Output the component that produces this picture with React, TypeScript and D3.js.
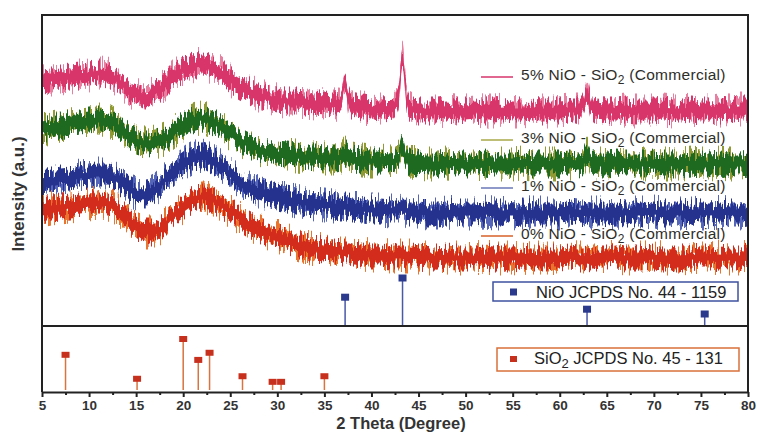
import React, { useEffect, useRef } from "react";
import * as d3 from "d3";

// 2 theta grid (denser around the NiO reflections)
const twoTheta = [
  5, 6, 7, 8, 9, 10, 11, 12, 13, 14,
  15, 16, 17, 18, 19, 20, 21, 22, 23, 24,
  25, 26, 27, 28, 29, 30, 31, 32, 33, 34,
  35, 36, 36.8, 37.2, 37.6, 38, 39, 40, 41, 42,
  42.9, 43.3, 43.7, 44, 45, 46, 47, 48, 49, 50,
  51, 52, 53, 54, 55, 56, 57, 58, 59, 60,
  61, 62, 62.5, 62.9, 63.3, 64, 65, 66, 67, 68,
  69, 70, 71, 72, 73, 74, 75, 76, 77, 78, 79, 80,
];

// stacked intensities (a.u.)
const nio5 = [
  246, 247, 248, 249, 250, 251, 253, 252, 246, 238,
  231, 229, 234, 241, 250, 256, 260, 262, 259, 254,
  246, 240, 235, 231, 228, 226, 225, 225, 224, 223,
  222, 221, 226, 241, 226, 220, 218, 217, 216, 217,
  231, 268, 231, 218, 215, 215, 215, 216, 215, 215,
  216, 215, 215, 216, 215, 215, 216, 215, 215, 215,
  216, 216, 221, 236, 221, 216, 215, 215, 216, 215,
  215, 215, 216, 215, 215, 216, 215, 215, 216, 215, 217, 217,
];
const nio3 = [
  196, 198, 200, 202, 204, 205, 206, 205, 200, 192,
  185, 183, 184, 187, 194, 201, 206, 208, 205, 199,
  192, 186, 181, 177, 174, 172, 171, 170, 169, 169,
  168, 168, 169, 173, 169, 167, 166, 165, 165, 164,
  169, 179, 169, 164, 163, 162, 162, 163, 162, 162,
  162, 163, 162, 162, 162, 163, 162, 162, 162, 162,
  163, 162, 165, 172, 165, 162, 162, 163, 162, 162,
  162, 163, 162, 162, 162, 163, 162, 162, 163, 162, 162, 163,
];
const nio1 = [
  143, 145, 147, 148, 150, 151, 152, 152, 146, 138,
  133, 132, 136, 146, 154, 162, 168, 170, 166, 160,
  152, 145, 139, 135, 132, 129, 127, 125, 123, 122,
  121, 120, 119, 120, 119, 118, 117, 116, 116, 115,
  115, 118, 115, 114, 114, 113, 113, 114, 113, 113,
  113, 114, 113, 113, 113, 114, 113, 113, 113, 113,
  114, 113, 113, 114, 113, 113, 113, 114, 113, 113,
  113, 114, 113, 113, 113, 114, 113, 113, 114, 113, 113, 114,
];
const nio0 = [
  116, 118, 119, 120, 121, 122, 123, 122, 116, 108,
  100, 94, 94, 101, 111, 119, 126, 129, 127, 121,
  115, 108, 102, 97, 93, 90, 86, 82, 79, 77,
  76, 75, 74, 74, 74, 73, 72, 71, 71, 70,
  70, 70, 70, 70, 69, 68, 68, 69, 68, 68,
  68, 69, 68, 68, 68, 69, 68, 68, 68, 68,
  69, 68, 68, 69, 68, 68, 68, 69, 68, 68,
  68, 69, 68, 68, 68, 69, 68, 68, 69, 68, 68, 69,
];

const seriesLabels = ["5% NiO - SiO", "3% NiO - SiO", "1% NiO - SiO", "0% NiO - SiO"];

// reference patterns
const nioRefPos = [37.2, 43.3, 62.9, 75.4];
const nioRefInt = [60, 100, 35, 25];
const sioRefPos = [7.5, 15.1, 20.0, 21.6, 22.8, 26.3, 29.5, 30.4, 35.0];
const sioRefInt = [69, 22, 100, 59, 73, 27, 16, 16, 27];

const xTicks = d3.range(5, 81, 5);

const FONT = "'Liberation Sans', Arial, sans-serif";

function App() {
  const ref = useRef<SVGSVGElement>(null);

  useEffect(() => {
    const width = 757;
    const height = 433;
    const left = 42, right = 748, top = 15, bottom = 392, mid = 326;

    const svg = d3.select(ref.current);
    svg.selectAll("*").remove();
    svg.attr("width", width).attr("height", height);

    const x = d3.scaleLinear([5, 80], [left, right]);
    const y = d3.scaleLinear([0, 311], [mid, top]);
    const yNio = d3.scaleLinear([0, 100], [mid, 278]);
    const ySio = d3.scaleLinear([0, 100], [390, 339]);

    const defs = svg.append("defs");
    // jagged texture for the noisy scans
    const makeJag = (id: string, seed: number, scale: number) => {
      const f = defs.append("filter")
        .attr("id", id)
        .attr("filterUnits", "userSpaceOnUse")
        .attr("x", 0).attr("y", 0).attr("width", width).attr("height", mid)
        .attr("color-interpolation-filters", "sRGB");
      f.append("feTurbulence")
        .attr("type", "fractalNoise")
        .attr("baseFrequency", "0.45 0.025")
        .attr("numOctaves", 2)
        .attr("seed", seed)
        .attr("result", "n");
      f.append("feColorMatrix")
        .attr("in", "n")
        .attr("type", "matrix")
        .attr("values", "0 0 0 0 0.5  0 2.6 0 0 -0.8  0 0 0 0 0  0 0 0 0 1")
        .attr("result", "m");
      f.append("feDisplacementMap")
        .attr("in", "SourceGraphic")
        .attr("in2", "m")
        .attr("scale", scale)
        .attr("xChannelSelector", "R")
        .attr("yChannelSelector", "G");
    };

    const series = [
      { vals: nio5, core: "#d8356b", fringe: "#e77fa0", key: "#d8356b" },
      { vals: nio3, core: "#1d6a20", fringe: "#8f9a34", key: "#a8a848" },
      { vals: nio1, core: "#25338f", fringe: "#5565b8", key: "#6a78b8" },
      { vals: nio0, core: "#d42c1c", fringe: "#e8742e", key: "#d9602a" },
    ];

    series.forEach((s, i) => {
      makeJag(`fr${i}`, 11 + i * 7, 22);
      makeJag(`co${i}`, 3 + i * 5, 12);
    });

    const g = svg.append("g");
    series.forEach((s, i) => {
      const pts = twoTheta.map((t, j) => [t, s.vals[j]] as [number, number]);
      const band = (hw: number) => d3.area<[number, number]>()
        .x(d => x(d[0]))
        .y0(d => y(d[1]) + hw)
        .y1(d => y(d[1]) - hw)
        .curve(d3.curveMonotoneX);
      g.append("path")
        .attr("d", band(6.5)(pts))
        .attr("fill", s.fringe)
        .attr("filter", `url(#fr${i})`);
      g.append("path")
        .attr("d", band(8.5)(pts))
        .attr("fill", s.core)
        .attr("filter", `url(#co${i})`);
    });

    // legend of the scans
    const legY = [77, 140, 188, 236];
    series.forEach((s, i) => {
      svg.append("line")
        .attr("x1", 481).attr("x2", 513)
        .attr("y1", legY[i]).attr("y2", legY[i])
        .attr("stroke", s.key).attr("stroke-width", 1.5);
      const t = svg.append("text")
        .attr("x", 521).attr("y", legY[i] + 3)
        .attr("font-family", FONT).attr("font-size", 15.5)
        .attr("letter-spacing", 0.3)
        .attr("fill", "#2e2e28");
      t.append("tspan").text(seriesLabels[i]);
      t.append("tspan").attr("font-size", 12).attr("dy", 4).text("2");
      t.append("tspan").attr("dy", -4).text(" (Commercial)");
    });

    // NiO reference sticks
    nioRefPos.forEach((p, i) => {
      svg.append("line")
        .attr("x1", x(p)).attr("x2", x(p))
        .attr("y1", yNio(0)).attr("y2", yNio(nioRefInt[i]))
        .attr("stroke", "#4a58a8").attr("stroke-width", 1.5);
      svg.append("rect")
        .attr("x", x(p) - 4).attr("y", yNio(nioRefInt[i]) - 3.5)
        .attr("width", 8).attr("height", 7)
        .attr("fill", "#2b3a8c");
    });

    // SiO2 reference sticks
    sioRefPos.forEach((p, i) => {
      svg.append("line")
        .attr("x1", x(p)).attr("x2", x(p))
        .attr("y1", ySio(0)).attr("y2", ySio(sioRefInt[i]))
        .attr("stroke", "#d9743e").attr("stroke-width", 1.5);
      svg.append("rect")
        .attr("x", x(p) - 4).attr("y", ySio(sioRefInt[i]) - 3)
        .attr("width", 8).attr("height", 6)
        .attr("fill", "#c8301e");
    });

    // reference legends
    svg.append("rect")
      .attr("x", 493).attr("y", 282).attr("width", 245).attr("height", 19)
      .attr("fill", "white").attr("stroke", "#3e50a0").attr("stroke-width", 1.5);
    svg.append("rect")
      .attr("x", 510).attr("y", 288.5).attr("width", 7).attr("height", 7)
      .attr("fill", "#2b3a8c");
    svg.append("text")
      .attr("x", 536).attr("y", 297.5)
      .attr("font-family", FONT).attr("font-size", 16.5)
      .attr("fill", "#222")
      .text("NiO JCPDS No. 44 - 1159");

    svg.append("rect")
      .attr("x", 497).attr("y", 348).attr("width", 242).attr("height", 23)
      .attr("fill", "white").attr("stroke", "#d9703a").attr("stroke-width", 1.5);
    svg.append("rect")
      .attr("x", 510).attr("y", 356).attr("width", 7).attr("height", 6)
      .attr("fill", "#c8301e");
    const st = svg.append("text")
      .attr("x", 534).attr("y", 364)
      .attr("font-family", FONT).attr("font-size", 16.5)
      .attr("fill", "#222");
    st.append("tspan").text("SiO");
    st.append("tspan").attr("font-size", 13).attr("dy", 4).text("2");
    st.append("tspan").attr("dy", -4).text(" JCPDS No. 45 - 131");

    // frame
    const frame = svg.append("g").attr("stroke", "#222").attr("stroke-width", 2).attr("fill", "none");
    frame.append("path").attr("d", `M${left},${bottom}V${top}H${right}V${bottom}`);
    frame.append("line").attr("x1", left).attr("x2", right).attr("y1", mid).attr("y2", mid);

    // x axis
    const xAxis = svg.append("g")
      .attr("transform", `translate(0,${bottom})`)
      .call(d3.axisBottom(x).tickValues(xTicks).tickSize(5).tickPadding(3).tickSizeOuter(0));
    xAxis.select(".domain").attr("stroke", "#222").attr("stroke-width", 2);
    xAxis.selectAll(".tick line").attr("stroke", "#222").attr("stroke-width", 2);
    xAxis.selectAll(".tick text")
      .attr("font-family", FONT).attr("font-size", 13.5).attr("font-weight", "bold").attr("fill", "#333");

    const minor = svg.append("g")
      .attr("transform", `translate(0,${bottom})`)
      .call(d3.axisBottom(x).tickValues(d3.range(7.5, 80, 5)).tickSize(3).tickFormat(() => ""));
    minor.select(".domain").remove();
    minor.selectAll(".tick line").attr("stroke", "#222").attr("stroke-width", 2);

    svg.append("text")
      .attr("x", 401).attr("y", 429)
      .attr("text-anchor", "middle")
      .attr("font-family", FONT).attr("font-size", 16.5).attr("font-weight", "bold")
      .attr("fill", "#333")
      .text("2 Theta (Degree)");

    svg.append("text")
      .attr("transform", "translate(24,194) rotate(-90)")
      .attr("text-anchor", "middle")
      .attr("font-family", FONT).attr("font-size", 17).attr("font-weight", "bold")
      .attr("fill", "#333")
      .text("Intensity (a.u.)");
  }, []);

  return <svg ref={ref} style={{ position: "absolute", left: 0, top: 0, background: "white" }} />;
}

export default App;
